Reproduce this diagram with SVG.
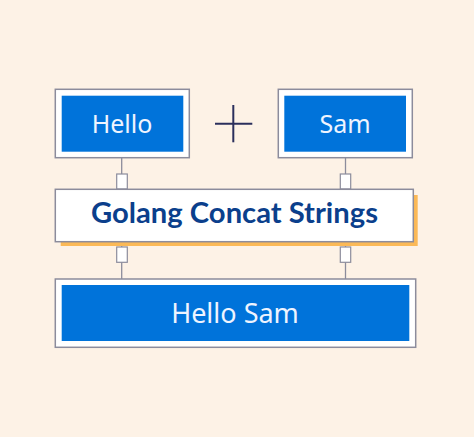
<svg xmlns="http://www.w3.org/2000/svg" width="474" height="437" viewBox="0 0 474 437">
<style>
.frame{fill:#ffffff;stroke:#8c8c9c;stroke-width:1.5}
.blue{fill:#0073da}
.wt{font-family:"Source Sans Pro","Noto Sans",sans-serif;fill:#eef4ff;text-anchor:middle}
.line{stroke:#8c8c9c;stroke-width:1.3;fill:none}
.tab{fill:#ffffff;stroke:#8c8c9c;stroke-width:1.2}
</style>
<rect width="474" height="437" fill="#fdf2e6"/>
<g id="connectors">
<line class="line" x1="121.7" y1="157.7" x2="121.7" y2="189"/>
<line class="line" x1="345.5" y1="157.7" x2="345.5" y2="189"/>
<line class="line" x1="121.7" y1="241.7" x2="121.7" y2="279"/>
<line class="line" x1="345.5" y1="241.7" x2="345.5" y2="279"/>
<rect class="tab" x="116.7" y="174" width="10.6" height="15"/>
<rect class="tab" x="340.3" y="174" width="10.4" height="15"/>
<rect class="tab" x="116.7" y="247" width="10.6" height="15.3"/>
<rect class="tab" x="340.3" y="247" width="10.4" height="15.3"/>
</g>
<g id="hello">
<rect class="frame" x="55.3" y="89.3" width="134" height="68.4"/>
<rect class="blue" x="61.7" y="95.7" width="121.6" height="56"/>
<text class="wt" x="122" y="132.7" font-size="25">Hello</text>
</g>
<g id="plus">
<line x1="215" y1="123.7" x2="252.3" y2="123.7" stroke="#2b2f5c" stroke-width="2"/>
<line x1="233.3" y1="105" x2="233.3" y2="142.3" stroke="#2b2f5c" stroke-width="2"/>
</g>
<g id="sam">
<rect class="frame" x="278.3" y="89.3" width="134" height="68.4"/>
<rect class="blue" x="284.3" y="95.7" width="121.7" height="56"/>
<text class="wt" x="345" y="132.7" font-size="25">Sam</text>
</g>
<g id="title">
<rect x="60.7" y="195" width="357" height="51" fill="#fbb957"/>
<rect class="frame" x="55.3" y="189.3" width="358" height="52.4"/>
<text x="234.5" y="223.3" font-family="Lato,'Noto Sans',sans-serif" font-weight="bold" font-size="28" fill="#0b3f8c" text-anchor="middle" textLength="287" lengthAdjust="spacingAndGlyphs">Golang Concat Strings</text>
</g>
<g id="result">
<rect class="frame" x="55.3" y="279" width="360.4" height="68.3"/>
<rect class="blue" x="61.7" y="285" width="347.6" height="56"/>
<text class="wt" x="235" y="323.3" font-size="27">Hello Sam</text>
</g>
</svg>
